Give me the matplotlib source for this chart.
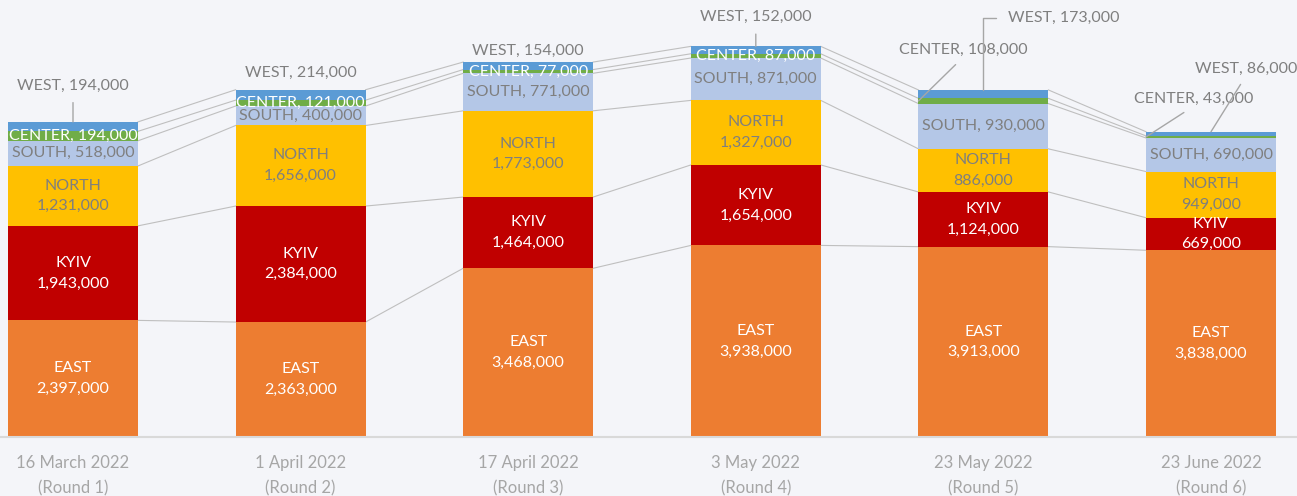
import numpy as np
import matplotlib.pyplot as plt

plt.rcParams['font.family'] = ['Lato', 'DejaVu Sans']

# data
dates = ['16 March 2022', '1 April 2022', '17 April 2022', '3 May 2022', '23 May 2022', '23 June 2022']
rounds = ['(Round 1)', '(Round 2)', '(Round 3)', '(Round 4)', '(Round 5)', '(Round 6)']
regions = ['EAST', 'KYIV', 'NORTH', 'SOUTH', 'CENTER', 'WEST']
east = [2397000, 2363000, 3468000, 3938000, 3913000, 3838000]
kyiv = [1943000, 2384000, 1464000, 1654000, 1124000, 669000]
north = [1231000, 1656000, 1773000, 1327000, 886000, 949000]
south = [518000, 400000, 771000, 871000, 930000, 690000]
center = [194000, 121000, 77000, 87000, 108000, 43000]
west = [194000, 214000, 154000, 152000, 173000, 86000]

series = [east, kyiv, north, south, center, west]
colors = ['#ED7D31', '#C00000', '#FFC000', '#B4C7E7', '#70AD47', '#5B9BD5']
label_colors = ['white', 'white', '#7F7F7F', '#7F7F7F', 'white', '#7F7F7F']
bg = '#F4F5F9'
grey = '#7F7F7F'
line_grey = '#BFBFBF'

# outside labels: (region, round) -> (dx, dy) in pixels, leader line on/off
outside = {
    ('WEST', 0): ((0, 36), True),
    ('WEST', 1): ((0, 17), False),
    ('WEST', 2): ((0, 11), False),
    ('WEST', 3): ((0, 29), True),
    ('CENTER', 4): ((45, 51), True),
    ('CENTER', 5): ((48, 38), True),
    ('WEST', 5): ((35, 63), True),
}

fig = plt.figure(figsize=(12.97, 4.96), dpi=100, facecolor=bg)
ax = fig.add_axes([0, (496 - 437) / 496, 1, 437 / 496])
ax.set_facecolor(bg)

x = np.arange(len(dates))
width = 0.571
data = np.array(series, dtype=float)
bottoms = np.vstack([np.zeros(len(x)), np.cumsum(data, axis=0)[:-1]])
tops = np.cumsum(data, axis=0)

# series lines between bars
for k in range(len(regions)):
    for i in range(len(x) - 1):
        ax.plot([x[i] + width / 2, x[i + 1] - width / 2], [tops[k, i], tops[k, i + 1]],
                color=line_grey, lw=0.8, zorder=1)

for k, name in enumerate(regions):
    ax.bar(x, data[k], width, bottom=bottoms[k], color=colors[k], zorder=2)

fs = 11.5
for k, name in enumerate(regions):
    for i in range(len(x)):
        val = '{:,}'.format(int(data[k, i]))
        mid = bottoms[k, i] + data[k, i] / 2
        if (name, i) in outside:
            (dx, dy), leader = outside[(name, i)]
            if name == 'WEST':
                xy = (x[i], tops[k, i])
            else:
                xy = (x[i] - width / 2, mid)
            arrow = dict(arrowstyle='-', color='#A6A6A6', lw=1.0, relpos=(0.5, 0),
                         shrinkA=5, shrinkB=0) if leader else None
            ax.annotate(name + ', ' + val, xy=xy, xytext=(dx, dy), textcoords='offset pixels',
                        ha='center', va='center', fontsize=fs, color=grey,
                        arrowprops=arrow, zorder=4)
        elif name == 'WEST' and i == 4:
            # elbow leader
            ax.annotate(name + ', ' + val, xy=(x[i], tops[k, i]), xytext=(25, 72),
                        textcoords='offset pixels', ha='left', va='center', fontsize=fs, color=grey,
                        arrowprops=dict(arrowstyle='-', color='#A6A6A6', lw=1.0, relpos=(0, 0.5),
                                        shrinkA=7, shrinkB=0,
                                        connectionstyle='angle,angleA=0,angleB=90,rad=0'),
                        zorder=4)
        elif k < 3:
            ax.text(x[i], mid, name + '\n' + val, ha='center', va='center', fontsize=fs,
                    color=label_colors[k], linespacing=1.6, zorder=3)
        else:
            ax.text(x[i], mid, name + ', ' + val, ha='center', va='center', fontsize=fs,
                    color=label_colors[k], zorder=3)

ax.set_xlim(-73 / 227.6, 5 + (1297 - 1211) / 227.6)
ax.set_ylim(0, 437 / 48.65 * 1e6)
ax.set_xticks(x)
ax.set_xticklabels([d + '\n' + r for d, r in zip(dates, rounds)], fontsize=12,
                   color='#A6A6A6', linespacing=1.7)
ax.tick_params(axis='x', length=0, pad=13)
ax.set_yticks([])
for s in ['top', 'left', 'right']:
    ax.spines[s].set_visible(False)
ax.spines['bottom'].set_color('#D9D9D9')
ax.spines['bottom'].set_linewidth(1.5)

fig.savefig('out.png', dpi=100, facecolor=bg)
